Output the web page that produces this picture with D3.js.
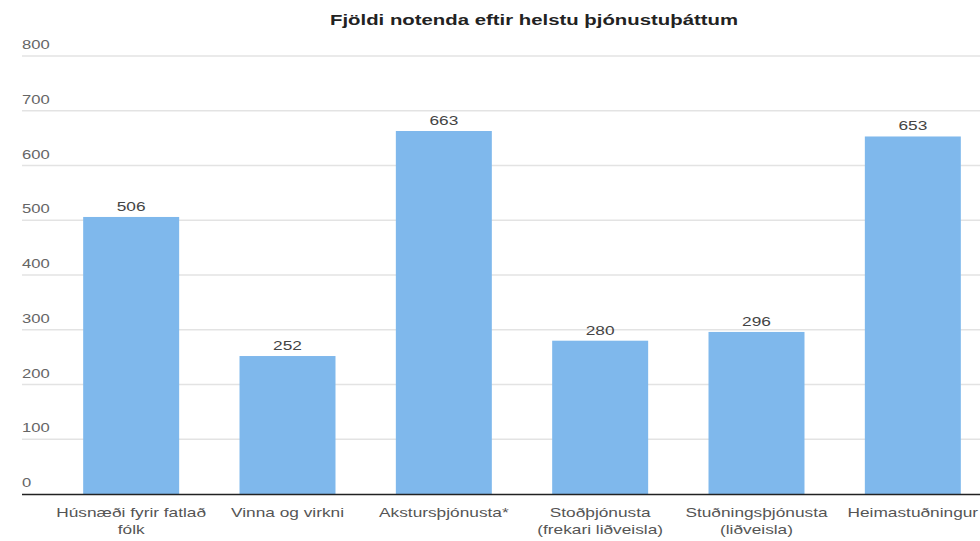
<!DOCTYPE html>
<html><head><meta charset="utf-8">
<script src="https://cdn.jsdelivr.net/npm/d3@7"></script>
<style>
html,body{margin:0;padding:0;background:#fff;}
svg{display:block;font-family:"Liberation Sans",Arial,sans-serif;}
</style></head>
<body>
<svg id="chart" width="980" height="541"></svg>
<script>
const title = "Fjöldi notenda eftir helstu þjónustuþáttum";
const categories = [
  ["Húsnæði fyrir fatlað", "fólk"],
  ["Vinna og virkni"],
  ["Akstursþjónusta*"],
  ["Stoðþjónusta", "(frekari liðveisla)"],
  ["Stuðningsþjónusta", "(liðveisla)"],
  ["Heimastuðningur"]
];
const values = [506, 252, 663, 280, 296, 653];
const yTicks = [0, 100, 200, 300, 400, 500, 600, 700, 800];

const SX = 1.33; // horizontal stretch of text seen in the reference
const svg = d3.select("#chart");
const keys = categories.map((c, i) => i);
const x = d3.scaleBand().domain(keys).range([53, 991]).paddingInner(0.386).paddingOuter(0.193);
const y = d3.scaleLinear().domain([0, 800]).range([494, 56]);
const tf = (px, py) => `translate(${px},${py}) scale(${SX},1)`;

// gridlines
svg.append("g").selectAll("line").data(yTicks.filter(d => d > 0)).join("line")
  .attr("x1", 22).attr("x2", 980)
  .attr("y1", d => y(d)).attr("y2", d => y(d))
  .attr("stroke", "#e3e3e3").attr("stroke-width", 1.5);

// y tick labels
svg.append("g").selectAll("text").data(yTicks).join("text")
  .attr("transform", d => tf(22, y(d) - 7))
  .attr("font-size", 12.5).attr("fill", "#666")
  .text(d => d);

// bars
svg.append("g").selectAll("rect").data(values).join("rect")
  .attr("x", (d, i) => x(i)).attr("width", x.bandwidth())
  .attr("y", d => y(d)).attr("height", d => y(0) - y(d))
  .attr("fill", "#7fb8ec");

// value labels
svg.append("g").selectAll("text").data(values).join("text")
  .attr("transform", (d, i) => tf(x(i) + x.bandwidth() / 2, y(d) - 6))
  .attr("text-anchor", "middle").attr("font-size", 13).attr("fill", "#444")
  .text(d => d);

// baseline
svg.append("line").attr("x1", 22).attr("x2", 980)
  .attr("y1", y(0) + 0.5).attr("y2", y(0) + 0.5)
  .attr("stroke", "#222").attr("stroke-width", 1.5);

// category labels
const cl = svg.append("g").selectAll("text").data(categories).join("text")
  .attr("transform", (d, i) => tf(x(i) + x.bandwidth() / 2, 517))
  .attr("text-anchor", "middle").attr("font-size", 13).attr("fill", "#555");
cl.each(function(lines) {
  d3.select(this).selectAll("tspan").data(lines).join("tspan")
    .attr("x", 0)
    .attr("y", (d, j) => j * 17)
    .text(d => d);
});

// title
svg.append("text").attr("transform", tf(534, 25))
  .attr("text-anchor", "middle").attr("font-size", 15.3).attr("font-weight", "bold")
  .attr("fill", "#222").text(title);
</script>
</body></html>
